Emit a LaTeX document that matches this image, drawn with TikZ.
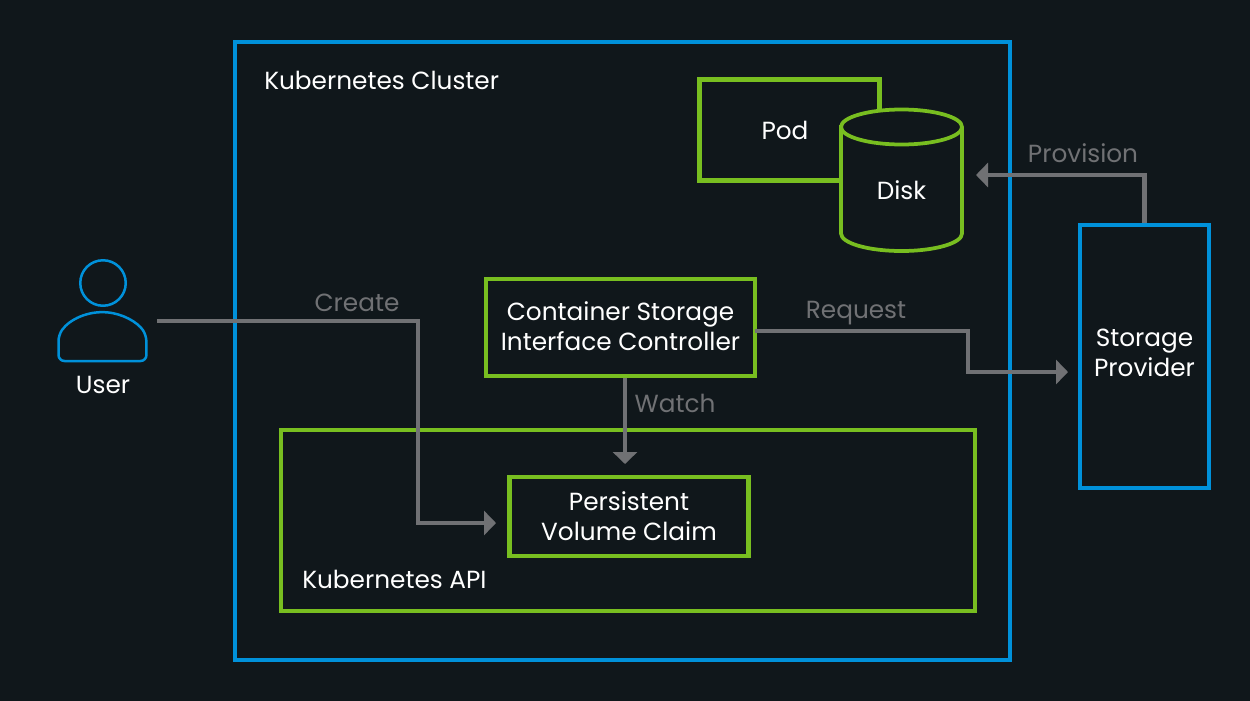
\documentclass[tikz,border=0pt]{standalone}
\usepackage{fontspec}
\setsansfont{Poppins}
\usetikzlibrary{arrows.meta, positioning, calc}
\definecolor{cbg}{HTML}{10171B}
\definecolor{cblue}{HTML}{0091DA}
\definecolor{cgreen}{HTML}{78BE20}
\definecolor{cgrey}{HTML}{707174}
\tikzset{
  every picture/.style={font=\sffamily\fontsize{14.1}{17}\selectfont, line width=0.09cm},
  box/.style={draw=#1, align=center, text=white, inner sep=0pt},
  box/.default=cgreen,
  arrow/.style={-{Triangle[length=0.24cm, width=0.48cm]}, draw=cgrey, line width=0.09cm},
  title/.style={text=white, anchor=west, inner sep=0pt},
  note/.style={text=cgrey},
}
\begin{document}
\begin{tikzpicture}[x=0.02cm, y=-0.02cm]
  \useasboundingbox (0,0) rectangle (1250,700);
  \fill[cbg] (-5,-5) rectangle (1255,705);
  % cluster
  \node[box=cblue, minimum width=15.5cm, minimum height=12.36cm] (cluster) at (622.5,351) {};
  \node[title] (clustertext) at (262,80) {Kubernetes Cluster};
  \node[box, minimum width=3.6cm, minimum height=2.02cm] (pod) at (789.5,130) {};
  \node[text=white] (podtext) at (785,130) {Pod};
  \draw[cgreen, fill=cbg, line width=0.075cm] (841,127) -- (841,233.5) arc[start angle=180, end angle=0, x radius=60.5, y radius=17.5]
    -- (962,127) arc[start angle=0, end angle=-180, x radius=60.5, y radius=17.5] -- cycle;
  \draw[cgreen, line width=0.075cm] (841,127) arc[start angle=180, end angle=0, x radius=60.5, y radius=17.5];
  \node[text=white] (disk) at (901.5,190) {Disk};
  % api and controller
  \node[box, minimum width=13.88cm, minimum height=3.62cm] (api) at (628,520.5) {};
  \node[title] (apitext) at (300,579) {Kubernetes API};
  \node[box, minimum width=4.78cm, minimum height=1.58cm] (pvc) at (629,516.5) {Persistent\\Volume Claim};
  \node[box, minimum width=5.38cm, minimum height=1.94cm] (csi) at (620.5,327.5) {};
  \node[text=white, align=center] (csitext) at (620.5,326.5) {Container Storage\\Interface Controller};
  % outside the cluster
  \node[box=cblue, minimum width=2.58cm, minimum height=5.26cm] (provider) at (1144.5,356.5) {};
  \node[text=white, align=center] (providertext) at (1144.5,353) {Storage\\Provider};
  \node[circle, draw=cblue, line width=0.05cm, minimum size=0.91cm, inner sep=0pt] (head) at (103,283) {};
  \draw[cblue, line width=0.05cm, rounded corners=0.12cm] (58.5,335) arc[start angle=-145, end angle=-35, radius=53.6] -- (146.5,361) -- (58.5,361) -- cycle;
  \node[text=white] (user) at (103,385) {User};
  % connectors
  \coordinate (createstart) at (157,321);
  \coordinate (createend) at (496,523);
  \coordinate (watchend) at (625,464);
  \coordinate (requeststart) at (755,331);
  \coordinate (requestend) at (1068,372);
  \coordinate (provisionend) at (976,175);
  \draw[arrow] (createstart) -| (418,523) -- (createend);
  \draw[arrow] (csi.south -| watchend) -- (watchend);
  \draw[arrow] (requeststart) -| (968,372) -- (requestend);
  \draw[arrow] (provider.north) |- (provisionend);
  \node[note] (createtext) at (357,303) {Create};
  \node[note] (watchtext) at (675,403) {Watch};
  \node[note] (requesttext) at (856,313) {Request};
  \node[note] (provisiontext) at (1083,153) {Provision};
\end{tikzpicture}
\end{document}
